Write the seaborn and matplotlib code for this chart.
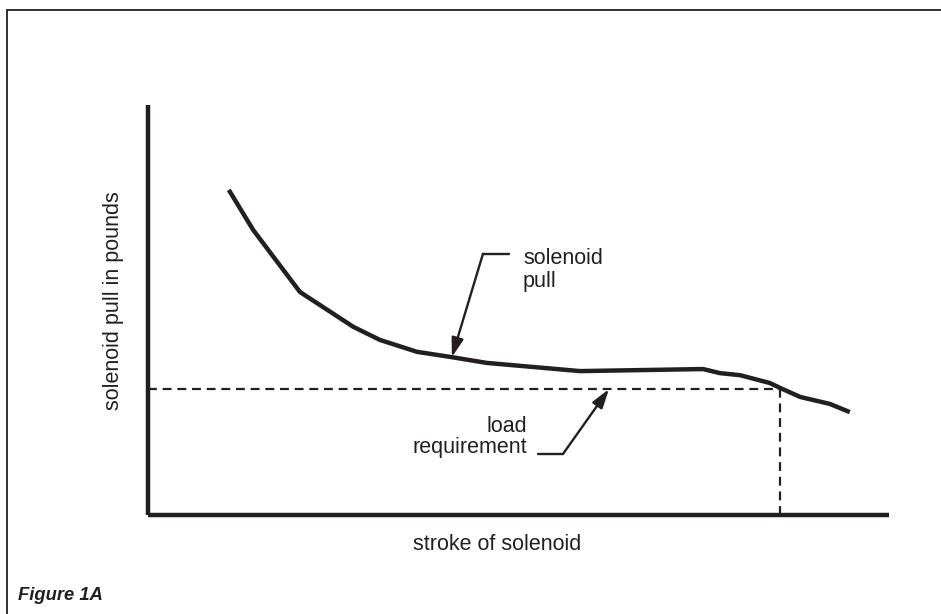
#Imports and config
import numpy as np
import pandas as pd
import matplotlib
matplotlib.use("Agg")
import matplotlib.pyplot as plt
from matplotlib.lines import Line2D
import seaborn as sns

#==========================================================================
#data (arbitrary units 0-100 on both axes)
#==========================================================================
stroke = [10.9, 14.2, 20.5, 27.7, 31.3, 36.3, 41.0, 45.7, 58.3, 74.9,
          77.2, 79.9, 83.9, 85.3, 88.0, 92.0, 94.7]
pull = [79.3, 69.5, 54.4, 45.9, 42.7, 39.8, 38.5, 37.1, 35.1, 35.6,
        34.6, 34.1, 32.2, 31.0, 28.8, 27.1, 25.1]
load_requirement = 30.7
crossover_stroke = 85.3

curve_label = "solenoid\npull"
load_label = "load\nrequirement"
xlabel = "stroke of solenoid"
ylabel = "solenoid pull in pounds"
caption = "Figure 1A"

df = pd.DataFrame({"stroke": stroke, "pull": pull})

sns.set_style("white")
plt.rcParams['font.family'] = ['Liberation Sans', 'DejaVu Sans']
ink = "#231f20"
fs = 15.5

fig = plt.figure(figsize=(9.41, 6.14), dpi=100)
ax = fig.add_axes([0.1573, 0.1612, 0.7875, 0.6678])

sns.lineplot(data=df, x="stroke", y="pull", ax=ax, color=ink,
             linewidth=3.2, solid_capstyle="butt", solid_joinstyle="round")

# load requirement dashed lines
dash = (0, (4, 2.6))
ax.plot([0, crossover_stroke], [load_requirement, load_requirement],
        color=ink, lw=1.6, linestyle=dash)
ax.plot([crossover_stroke, crossover_stroke], [0, load_requirement],
        color=ink, lw=1.6, linestyle=dash)

# callouts
arrow_kw = dict(arrowstyle="-|>,head_length=1.15,head_width=0.36",
                color=ink, lw=1.7, shrinkA=0, shrinkB=0)
ax.plot([48.7, 45.2], [63.7, 63.7], color=ink, lw=1.7)
ax.annotate("", xy=(41.0, 38.5), xytext=(45.2, 63.7), arrowprops=arrow_kw)
ax.text(50.6, 59.8, curve_label, ha="left", va="center", fontsize=fs,
        linespacing=1.1, color=ink)

ax.plot([52.6, 56.0], [14.9, 14.9], color=ink, lw=1.7)
ax.annotate("", xy=(62.2, 30.7), xytext=(56.0, 14.9), arrowprops=arrow_kw)
ax.text(51.1, 19.0, load_label, ha="right", va="center", fontsize=fs,
        linespacing=1.0, color=ink)

ax.set_xlim(0, 100)
ax.set_ylim(0, 100)
ax.set_xticks([])
ax.set_yticks([])
ax.set_xlabel(xlabel, fontsize=fs, color=ink, va="center")
ax.set_ylabel(ylabel, fontsize=fs, color=ink, va="center")
ax.xaxis.set_label_coords(0.471, -0.071)
ax.yaxis.set_label_coords(-0.046, 0.524)
sns.despine(ax=ax)
for side in ["left", "bottom"]:
    ax.spines[side].set_linewidth(3.2)
    ax.spines[side].set_color(ink)
    ax.spines[side].set_capstyle("butt")

# frame around the figure (top and left only)
fig.add_artist(Line2D([7 / 941, 1.0], [1 - 10 / 614, 1 - 10 / 614],
                      color=ink, lw=1.3, transform=fig.transFigure))
fig.add_artist(Line2D([7 / 941, 7 / 941], [0.0, 1 - 10 / 614],
                      color=ink, lw=1.3, transform=fig.transFigure))

fig.text(18 / 941, 1 - 595 / 614, caption, ha="left", va="center",
         fontsize=13.2, fontweight="bold", fontstyle="italic", color=ink)

fig.savefig("out.png", dpi=100)
